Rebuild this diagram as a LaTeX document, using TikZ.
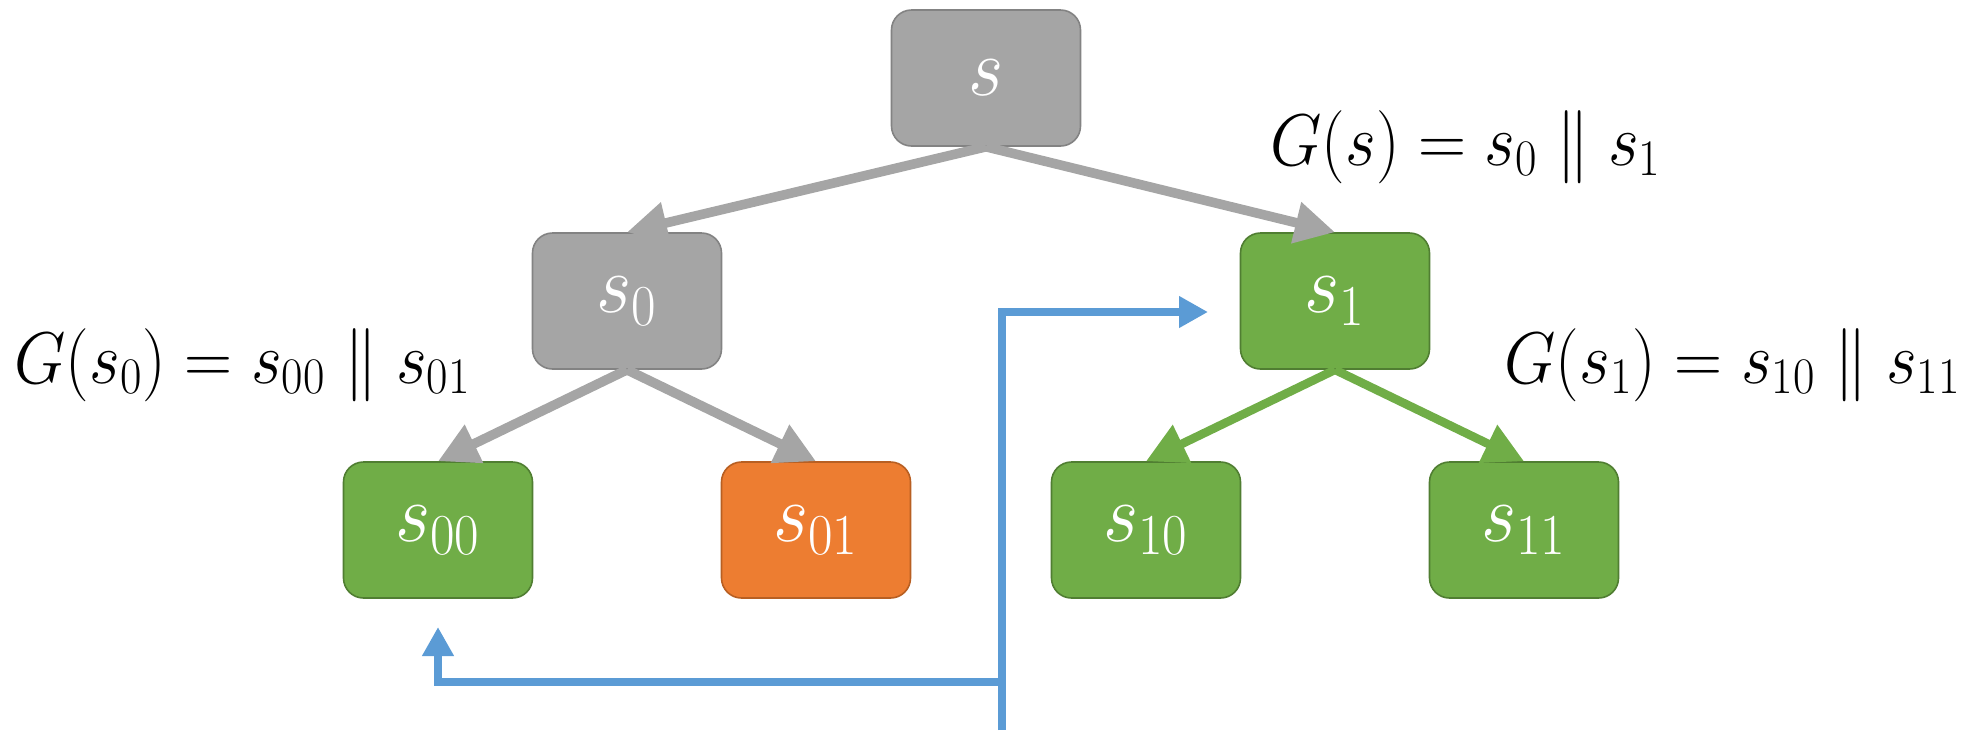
\RequirePackage{fix-cm}
\documentclass[tikz,border=0pt]{standalone}
\usetikzlibrary{arrows.meta}
\definecolor{grayfill}{HTML}{A5A5A5}
\definecolor{graydraw}{HTML}{838383}
\definecolor{greenfill}{HTML}{70AD47}
\definecolor{greendraw}{HTML}{507E32}
\definecolor{orangefill}{HTML}{ED7D31}
\definecolor{orangedraw}{HTML}{B85F22}
\definecolor{blueline}{HTML}{5B9BD5}
\newcommand{\mylbl}[1]{\scalebox{1.11}[1.22]{$#1$}}
\newcommand{\myboxtxt}[1]{\scalebox{1.27}[1.38]{$#1$}}
\begin{document}
\begin{tikzpicture}[x=0.5pt,y=-0.5pt,
  box/.style={rounded corners=10pt, minimum width=94.5pt, minimum height=68pt,
    line width=0.8pt, text=white, inner sep=0pt, font=\fontsize{30}{36}\selectfont},
  graybox/.style={box, fill=grayfill, draw=graydraw},
  greenbox/.style={box, fill=greenfill, draw=greendraw},
  orangebox/.style={box, fill=orangefill, draw=orangedraw},
  lbl/.style={inner sep=0pt, anchor=base west, font=\fontsize{30}{36}\selectfont},
  grayarr/.style={draw=grayfill, line width=4.8pt, -{Triangle[length=20pt,width=20pt]}},
  greenarr/.style={draw=greenfill, line width=4.3pt, -{Triangle[length=20pt,width=20pt]}},
  bluearr/.style={draw=blueline, line width=4pt, -{Triangle[length=14.5pt,width=15pt]}}]
\useasboundingbox (0,0) rectangle (1974,730);

\node[graybox] (s) at (986,78) {\myboxtxt{s}};
\node[graybox] (s0) at (627,301) {\myboxtxt{s_0}};
\node[greenbox] (s1) at (1335,301) {\myboxtxt{s_1}};
\node[greenbox] (s00) at (438,530) {\myboxtxt{s_{00}}};
\node[orangebox] (s01) at (816,530) {\myboxtxt{s_{01}}};
\node[greenbox] (s10) at (1146,530) {\myboxtxt{s_{10}}};
\node[greenbox] (s11) at (1524,530) {\myboxtxt{s_{11}}};

\node[lbl] (g) at (1270,165) {\mylbl{G(s)=s_0\parallel s_1}};
\node[lbl] (g0) at (14,383) {\mylbl{G(s_0)=s_{00}\parallel s_{01}}};
\node[lbl] (g1) at (1504,383) {\mylbl{G(s_1)=s_{10}\parallel s_{11}}};

\draw[grayarr] (s.south) -- (s0.north);
\draw[grayarr] (s.south) -- (s1.north);
\draw[grayarr] (s0.south) -- (s00.north);
\draw[grayarr] (s0.south) -- (s01.north);
\draw[greenarr] (s1.south) -- (s10.north);
\draw[greenarr] (s1.south) -- (s11.north);

\coordinate (bstart) at (1002,730);
\coordinate (bturn) at (1002,312);
\coordinate (btip) at (1208,312);
\coordinate (bbranch) at (1002,682);
\coordinate (bcorner) at (438,682);
\coordinate (btipb) at (438,627);
\draw[bluearr] (bstart) -- (bturn) -- (btip);
\draw[bluearr] (bbranch) -- (bcorner) -- (btipb);
\end{tikzpicture}
\end{document}
